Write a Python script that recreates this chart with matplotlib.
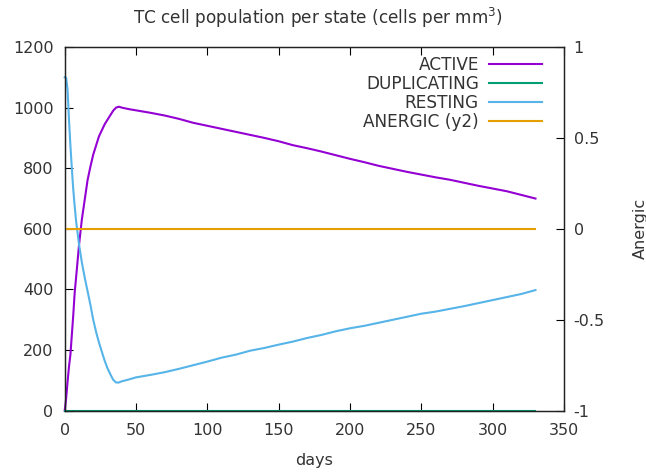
import matplotlib
matplotlib.use("Agg")
import matplotlib.pyplot as plt

days = [0, 1, 2, 3, 4, 5, 6, 7, 8, 10, 12, 14, 16, 18, 20, 22, 24, 26, 28, 30,
        32, 34, 36, 38, 40, 45, 50, 60, 70, 80, 90, 100, 110, 120, 130, 140,
        150, 160, 170, 180, 190, 200, 210, 220, 230, 240, 250, 260, 270, 280,
        290, 300, 310, 320, 330]

active = [0, 40, 95, 145, 185, 250, 315, 390, 440, 545, 630, 695, 760, 805,
          845, 875, 905, 925, 945, 960, 975, 990, 1000, 1003, 1000, 995, 991,
          983, 974, 963, 950, 940, 930, 920, 910, 900, 889, 876, 866, 855,
          843, 831, 820, 808, 798, 788, 779, 770, 762, 752, 742, 733, 724,
          712, 700]

resting = [1100, 1098, 1060, 960, 875, 800, 730, 675, 625, 550, 490, 440, 395,
           350, 300, 260, 225, 195, 165, 140, 120, 102, 93, 93, 97, 103, 110,
           118, 127, 138, 150, 162, 175, 185, 198, 207, 218, 228, 240, 250,
           262, 272, 280, 290, 300, 310, 320, 327, 336, 345, 355, 365, 375,
           385, 398]

duplicating = [0] * len(days)
anergic = [0] * len(days)

labels = ["ACTIVE", "DUPLICATING", "RESTING", "ANERGIC (y2)"]
colors = ["#9400d3", "#009e73", "#56b4e9", "#e69f00"]

W, H = 646, 473
ax_w, ax_h = 564 - 64.7, 410.7 - 47
fig = plt.figure(figsize=(W / 100, H / 100), dpi=100)
ax = fig.add_axes([64.7 / W, 1 - 410.7 / H, ax_w / W, ax_h / H])
ax2 = ax.twinx()

lw = 1.5
l1, = ax.plot(days, active, color=colors[0], lw=lw, label=labels[0], clip_on=False)
l2, = ax.plot(days, duplicating, color=colors[1], lw=lw, label=labels[1], clip_on=False)
l3, = ax.plot(days, resting, color=colors[2], lw=lw, label=labels[2], clip_on=False)
l4, = ax2.plot(days, anergic, color=colors[3], lw=lw, label=labels[3])

ax.set_xlim(0, 350)
ax.set_ylim(0, 1200)
ax2.set_ylim(-1, 1)
ax.set_xticks(range(0, 351, 50))
ax.set_yticks(range(0, 1201, 200))
ax2.set_yticks([-1, -0.5, 0, 0.5, 1])
ax2.set_yticklabels(["-1", "-0.5", "0", "0.5", "1"])

tick_color = "#333333"
fs = 11.5
fs_big = 12.2
ax.tick_params(axis="x", direction="in", top=True, length=6, width=0.8,
               pad=8.5, labelsize=fs, labelcolor=tick_color)
ax.tick_params(axis="y", direction="in", right=False, length=6, width=0.8,
               pad=8, labelsize=fs, labelcolor=tick_color)
ax2.tick_params(axis="y", direction="in", length=6, width=0.8, pad=7,
                labelsize=fs, labelcolor=tick_color)
for a in (ax, ax2):
    for s in a.spines.values():
        s.set_linewidth(0.9)
        s.set_color("#222222")

ax.set_xlabel("days", fontsize=fs, color=tick_color, labelpad=11)
fig.text(318 / W, 1 - 18 / H, r"TC cell population per state (cells per mm$^3$)",
         ha="center", va="center", fontsize=fs_big, color=tick_color)
fig.text(640 / W, 1 - 228 / H, "Anergic", rotation=90, ha="center",
         va="center", fontsize=fs, color=tick_color)

leg = ax2.legend(handles=[l1, l2, l3, l4], loc="upper right",
                 bbox_to_anchor=(1.0 - 2 / ax_w, 1.0 + 11 / ax_h), frameon=False,
                 markerfirst=False, fontsize=fs_big, handlelength=3.1,
                 labelspacing=0.06, handletextpad=0.6, borderaxespad=0.9,
                 borderpad=0.3)
for t in leg.get_texts():
    t.set_color(tick_color)

fig.savefig("out.png", dpi=100)
